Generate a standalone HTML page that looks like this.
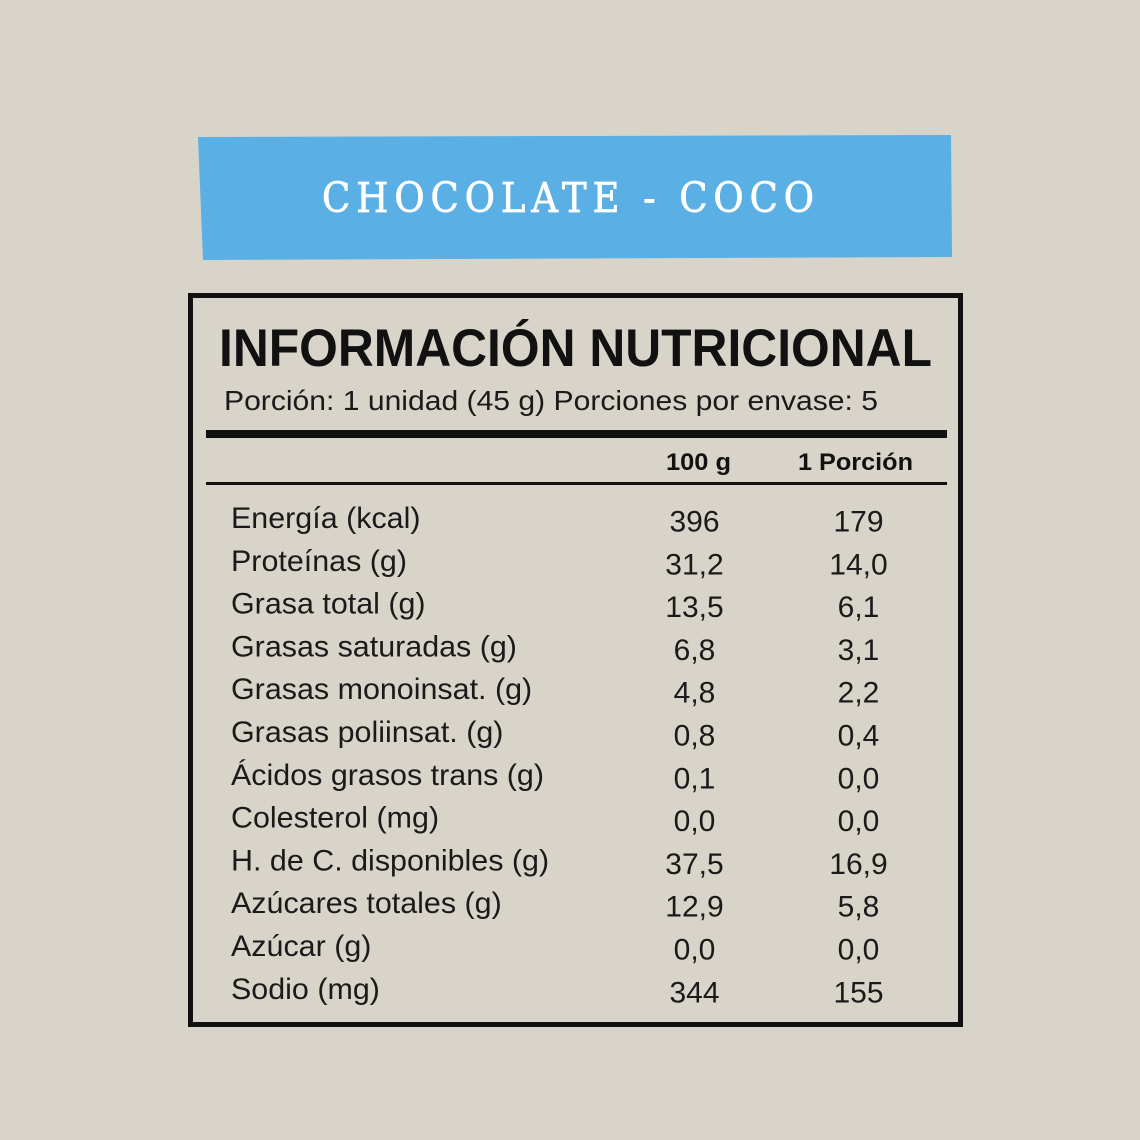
<!DOCTYPE html>
<html>
<head>
<meta charset="utf-8">
<style>
html,body{margin:0;padding:0;background:#d8d4c9;}
svg{display:block;}
</style>
</head>
<body>
<svg width="1140" height="1140" viewBox="0 0 1140 1140" xmlns="http://www.w3.org/2000/svg">
<rect x="0" y="0" width="1140" height="1140" fill="#d8d4c9"/>
<polygon points="198,137 951,135 952,257 203,260" fill="#5aafe4"/>
<g transform="scale(0.9,1)">
<text x="357.8" y="212" font-family="'DejaVu Serif', 'Liberation Serif', serif" font-size="41" fill="#ffffff" stroke="#ffffff" stroke-width="0.8" textLength="546.7" lengthAdjust="spacing">CHOCOLATE - COCO</text>
</g>

<rect x="190.5" y="295.5" width="770" height="729" fill="none" stroke="#111111" stroke-width="5"/>

<text x="219" y="366" font-family="'Liberation Sans', Arial, sans-serif" font-weight="bold" font-size="53" fill="#111111" textLength="713" lengthAdjust="spacingAndGlyphs">INFORMACIÓN NUTRICIONAL</text>
<text x="224" y="410" font-family="'Liberation Sans', Arial, sans-serif" font-size="28" fill="#1a1a1a" textLength="654" lengthAdjust="spacingAndGlyphs">Porción: 1 unidad (45 g) Porciones por envase: 5</text>

<rect x="206" y="430" width="741" height="8" fill="#111111"/>
<text x="666" y="470" font-family="'Liberation Sans', Arial, sans-serif" font-weight="bold" font-size="24.5" fill="#111111" textLength="65" lengthAdjust="spacingAndGlyphs">100 g</text>
<text x="798" y="470" font-family="'Liberation Sans', Arial, sans-serif" font-weight="bold" font-size="24.5" fill="#111111" textLength="115" lengthAdjust="spacingAndGlyphs">1 Porción</text>
<rect x="206" y="482" width="741" height="3" fill="#111111"/>

<g font-family="'Liberation Sans', Arial, sans-serif" font-size="30" fill="#1a1a1a">
  <g transform="translate(231,0) scale(1.015,1)">
    <text x="0" y="528">Energía (kcal)</text>
    <text x="0" y="570.8">Proteínas (g)</text>
    <text x="0" y="613.6">Grasa total (g)</text>
    <text x="0" y="656.4">Grasas saturadas (g)</text>
    <text x="0" y="699.2">Grasas monoinsat. (g)</text>
    <text x="0" y="742">Grasas poliinsat. (g)</text>
    <text x="0" y="784.8">Ácidos grasos trans (g)</text>
    <text x="0" y="827.6">Colesterol (mg)</text>
    <text x="0" y="870.4">H. de C. disponibles (g)</text>
    <text x="0" y="913.2">Azúcares totales (g)</text>
    <text x="0" y="956">Azúcar (g)</text>
    <text x="0" y="998.8">Sodio (mg)</text>
  </g>
</g>

<g font-family="'Liberation Sans', Arial, sans-serif" font-size="30" fill="#1a1a1a" text-anchor="middle">
  <text x="694.5" y="531.5">396</text>
  <text x="694.5" y="574.3">31,2</text>
  <text x="694.5" y="617.1">13,5</text>
  <text x="694.5" y="659.9">6,8</text>
  <text x="694.5" y="702.7">4,8</text>
  <text x="694.5" y="745.5">0,8</text>
  <text x="694.5" y="788.3">0,1</text>
  <text x="694.5" y="831.1">0,0</text>
  <text x="694.5" y="873.9">37,5</text>
  <text x="694.5" y="916.7">12,9</text>
  <text x="694.5" y="959.5">0,0</text>
  <text x="694.5" y="1002.3">344</text>

  <text x="858.5" y="531.5">179</text>
  <text x="858.5" y="574.3">14,0</text>
  <text x="858.5" y="617.1">6,1</text>
  <text x="858.5" y="659.9">3,1</text>
  <text x="858.5" y="702.7">2,2</text>
  <text x="858.5" y="745.5">0,4</text>
  <text x="858.5" y="788.3">0,0</text>
  <text x="858.5" y="831.1">0,0</text>
  <text x="858.5" y="873.9">16,9</text>
  <text x="858.5" y="916.7">5,8</text>
  <text x="858.5" y="959.5">0,0</text>
  <text x="858.5" y="1002.3">155</text>
</g>
</svg>
</body>
</html>
